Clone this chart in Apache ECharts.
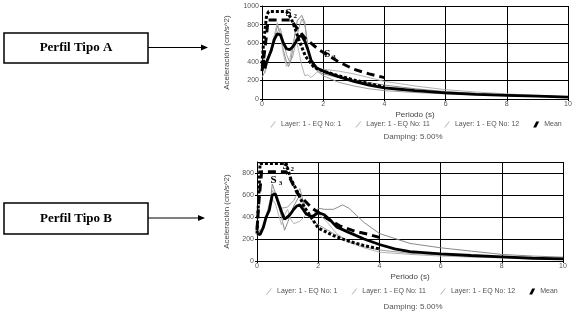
<!DOCTYPE html>
<html><head><meta charset="utf-8">
<script src="https://cdn.jsdelivr.net/npm/echarts@6/dist/echarts.min.js"></script>
<style>html,body{margin:0;padding:0;background:#fff}#c{width:577px;height:321px}</style>
</head><body><div id="c"></div>
<script>
// ---------- data ----------
const seriesNames = ['Layer: 1 - EQ No: 1', 'Layer: 1 - EQ No: 11', 'Layer: 1 - EQ No: 12', 'Mean'];
const xTicks = [0, 2, 4, 6, 8, 10];
const dampingText = 'Damping: 5.00%';
const yAxisName = 'Aceleraci\u00f3n (cm/s^2)';
const xAxisName = 'Periodo (s)';
const profileLabels = ['Perfil Tipo A', 'Perfil Tipo B'];

// Perfil Tipo A
const A_eq1 = [[0,230],[0.1,300],[0.2,420],[0.3,520],[0.4,640],[0.5,790],[0.6,700],[0.7,520],[0.8,400],[0.87,350],[0.95,420],[1.05,650],[1.15,840],[1.3,900],[1.4,820],[1.5,560],[1.6,380],[1.8,300],[2,270],[2.5,230],[3,200],[3.5,175],[4,150],[5,110],[6,80],[7,60],[8,45],[9,33],[10,25]];
const A_eq11 = [[0,300],[0.1,360],[0.2,400],[0.3,500],[0.4,600],[0.5,720],[0.6,760],[0.7,620],[0.8,480],[0.9,400],[1.0,450],[1.1,600],[1.2,760],[1.3,860],[1.4,800],[1.5,560],[1.6,380],[1.8,300],[2,250],[2.5,180],[3,140],[3.5,110],[4,90],[5,70],[6,55],[7,45],[8,35],[9,28],[10,20]];
const A_eq12 = [[0,350],[0.1,280],[0.2,430],[0.3,560],[0.4,680],[0.5,820],[0.6,700],[0.7,480],[0.8,350],[0.9,400],[1.0,600],[1.1,650],[1.2,520],[1.3,360],[1.4,250],[1.5,260],[1.6,230],[1.8,290],[2,320],[2.5,300],[3,270],[3.5,230],[4,190],[5,140],[6,100],[7,75],[8,55],[9,38],[10,25]];
const A_mean = [[0,350],[0.05,420],[0.1,330],[0.15,400],[0.2,380],[0.3,520],[0.4,640],[0.5,700],[0.6,690],[0.7,600],[0.8,540],[0.9,530],[1.0,560],[1.1,610],[1.2,670],[1.3,680],[1.4,620],[1.5,530],[1.6,420],[1.7,370],[1.8,330],[2,300],[2.5,240],[3,190],[3.5,150],[4,120],[4.5,105],[5,90],[6,65],[7,50],[8,40],[9,30],[10,20]];
const A_S2 = [[0,380],[0.05,600],[0.15,900],[0.22,940],[0.8,940],[0.95,870],[1.1,740],[1.2,640],[1.42,460],[1.7,340],[2,300],[2.5,250],[3,205],[3.5,165],[4,130]];
const A_S3 = [[0,300],[0.1,550],[0.2,850],[0.95,850],[1.1,780],[1.42,650],[1.86,530],[2.5,400],[3,320],[3.5,270],[4,230]];
const A_labels = [['S','2',0.93,925],['S','3',2.2,485]];

// Perfil Tipo B
const B_eq1 = [[0,230],[0.2,320],[0.4,450],[0.5,700],[0.6,620],[0.8,400],[0.9,280],[1.0,350],[1.2,500],[1.4,600],[1.6,420],[1.8,400],[2.0,480],[2.2,470],[2.5,470],[2.8,510],[3,480],[3.5,350],[4,250],[5,160],[6,120],[7,90],[8,60],[9,45],[10,35]];
const B_eq11 = [[0,260],[0.2,300],[0.4,520],[0.5,640],[0.6,600],[0.7,500],[0.8,480],[1.0,490],[1.2,550],[1.4,660],[1.6,450],[1.8,370],[2,330],[2.5,250],[3,180],[3.5,130],[4,100],[5,70],[6,55],[7,42],[8,32],[9,25],[10,20]];
const B_eq12 = [[0,240],[0.2,310],[0.4,480],[0.5,560],[0.6,520],[0.8,330],[0.9,420],[1.0,470],[1.1,380],[1.2,340],[1.4,360],[1.6,420],[1.8,420],[2,430],[2.3,350],[2.6,250],[3,170],[3.5,120],[4,80],[5,60],[6,45],[7,35],[8,28],[9,22],[10,18]];
const B_mean = [[0,250],[0.1,240],[0.2,300],[0.3,400],[0.4,460],[0.5,600],[0.6,610],[0.7,530],[0.8,450],[0.9,380],[1.0,400],[1.1,430],[1.2,470],[1.3,500],[1.4,510],[1.5,470],[1.6,430],[1.8,400],[2,440],[2.2,420],[2.4,370],[2.6,310],[3,260],[3.5,200],[4,150],[4.5,110],[5,85],[6,65],[7,50],[8,38],[9,25],[10,20]];
const B_S2 = [[0,250],[0.06,600],[0.1,887],[0.95,887],[1.1,750],[1.3,640],[1.55,490],[2,300],[2.5,230],[3,180],[3.5,140],[4,110]];
const B_S3 = [[0,280],[0.05,500],[0.15,812],[0.95,812],[1.1,740],[1.31,620],[1.8,480],[2.27,390],[2.7,320],[3.2,270],[3.6,245],[4,215]];
const B_labels = [['S','2',1.0,860],['S','3',0.61,735]];

// ---------- chart ----------
const chart = echarts.init(document.getElementById('c'), null, {renderer: 'canvas'});
const FONT = 'Arial, "Liberation Sans", sans-serif';
const gridDefs = [
  {left: 262, top: 6, width: 306, height: 93},
  {left: 257, top: 162, width: 306, height: 99}
];
const yMax = [1000, 900];
const yNameGap = [31, 26];

function xAxis(i) {
  return {
    type: 'value', gridIndex: i, min: xTicks[0], max: xTicks[xTicks.length - 1], interval: 2,
    name: xAxisName, nameLocation: 'middle', nameGap: 12,
    nameTextStyle: {fontFamily: FONT, fontSize: 8, color: '#444'},
    axisLine: {lineStyle: {color: '#000', width: 1}},
    axisTick: {show: true, length: 2, lineStyle: {color: '#000'}},
    axisLabel: {fontFamily: FONT, fontSize: 7, color: '#555', margin: 2, formatter: v => String(v)},
    splitLine: {show: true, lineStyle: {color: '#000', width: 1}}
  };
}
function yAxis(i) {
  return {
    type: 'value', gridIndex: i, min: 0, max: yMax[i], interval: 200,
    name: yAxisName, nameLocation: 'middle', nameGap: yNameGap[i],
    nameTextStyle: {fontFamily: FONT, fontSize: 8, color: '#444'},
    axisLine: {show: true, lineStyle: {color: '#000', width: 1}},
    axisTick: {show: true, length: 2, lineStyle: {color: '#000'}},
    axisLabel: {fontFamily: FONT, fontSize: 7, color: '#555', margin: 3, showMaxLabel: i === 0, formatter: v => String(v)},
    splitLine: {show: true, lineStyle: {color: '#000', width: 1}}
  };
}
function lineSeries(name, data, i, style) {
  return {
    name: name, type: 'line', data: data, xAxisIndex: i, yAxisIndex: i,
    showSymbol: false, symbol: 'none', smooth: false, silent: true,
    lineStyle: style, itemStyle: {color: style.color}, z: style.z || 2
  };
}
const thinColors = ['#8a8a8a', '#a0a0a0', '#b4b4b4'];
function seriesFor(i, eq1, eq11, eq12, mean, s2, s3) {
  return [
    lineSeries(seriesNames[0], eq1, i, {color: thinColors[0], width: 1}),
    lineSeries(seriesNames[1], eq11, i, {color: thinColors[1], width: 1}),
    lineSeries(seriesNames[2], eq12, i, {color: thinColors[2], width: 1}),
    lineSeries('S2', s2, i, {color: '#000', width: 3, type: [3, 2], z: 3}),
    lineSeries('S3', s3, i, {color: '#000', width: 3, type: [8, 5], z: 3}),
    lineSeries(seriesNames[3], mean, i, {color: '#000', width: 2.8, z: 4})
  ];
}
const thinIcon = 'path://M0,10 L2,10 L10,0 L8,0 Z';
const meanIcon = 'path://M0,10 L5,10 L10,0 L5,0 Z';
function legend(left, top) {
  return {
    left: left, top: top, width: 400, orient: 'horizontal',
    itemWidth: 6, itemHeight: 8, itemGap: 14, padding: 0,
    textStyle: {fontFamily: FONT, fontSize: 7, color: '#555'},
    selectedMode: false,
    data: [
      {name: seriesNames[0], icon: thinIcon, itemStyle: {color: '#bbb'}},
      {name: seriesNames[1], icon: thinIcon, itemStyle: {color: '#bbb'}},
      {name: seriesNames[2], icon: thinIcon, itemStyle: {color: '#bbb'}},
      {name: seriesNames[3], icon: meanIcon, itemStyle: {color: '#000'}}
    ]
  };
}

const option = {
  animation: false,
  backgroundColor: '#fff',
  grid: gridDefs,
  xAxis: [xAxis(0), xAxis(1)],
  yAxis: [yAxis(0), yAxis(1)],
  legend: [legend(270, 121), legend(266, 288)],
  series: [].concat(
    seriesFor(0, A_eq1, A_eq11, A_eq12, A_mean, A_S2, A_S3),
    seriesFor(1, B_eq1, B_eq11, B_eq12, B_mean, B_S2, B_S3)
  )
};
chart.setOption(option);

// ---------- annotations & side boxes ----------
function sLabel(lbl, gi) {
  const p = chart.convertToPixel({gridIndex: gi}, [lbl[2], lbl[3]]);
  return [
    {type: 'text', x: p[0] - 2, y: p[1], z: 10,
     style: {text: lbl[0], align: 'center', verticalAlign: 'middle', fontFamily: 'Liberation Serif', fontSize: 11, fontWeight: 'bold', fill: '#000'}},
    {type: 'text', x: p[0] + 3, y: p[1] + 3, z: 10,
     style: {text: lbl[1], align: 'left', verticalAlign: 'middle', fontFamily: 'Liberation Serif', fontSize: 7, fontWeight: 'bold', fill: '#000'}}
  ];
}
function box(y, h, label, arrowY, arrowEnd) {
  return [
    {type: 'rect', shape: {x: 4, y: y, width: 144, height: h}, style: {fill: '#fff', stroke: '#000', lineWidth: 1.5}, z: 5},
    {type: 'text', x: 76, y: y + h / 2, z: 6, style: {text: label, align: 'center', verticalAlign: 'middle', fontFamily: 'Liberation Serif', fontSize: 13, fontWeight: 'bold', fill: '#000'}},
    {type: 'line', shape: {x1: 148, y1: arrowY, x2: arrowEnd - 5, y2: arrowY}, style: {stroke: '#000', lineWidth: 1.2}, z: 5},
    {type: 'polygon', shape: {points: [[arrowEnd, arrowY], [arrowEnd - 7, arrowY - 3], [arrowEnd - 7, arrowY + 3]]}, style: {fill: '#000'}, z: 5}
  ];
}
const graphics = [].concat(
  box(33, 30, profileLabels[0], 47.5, 208),
  box(203, 31, profileLabels[1], 218, 205),
  ...A_labels.map(l => sLabel(l, 0)),
  ...B_labels.map(l => sLabel(l, 1)),
  [
    {type: 'text', x: 413, y: 137, style: {text: dampingText, align: 'center', verticalAlign: 'middle', fontFamily: FONT, fontSize: 8, fill: '#555'}},
    {type: 'text', x: 413, y: 307, style: {text: dampingText, align: 'center', verticalAlign: 'middle', fontFamily: FONT, fontSize: 8, fill: '#555'}}
  ]
);
chart.setOption({graphic: graphics});
</script>
</body></html>
